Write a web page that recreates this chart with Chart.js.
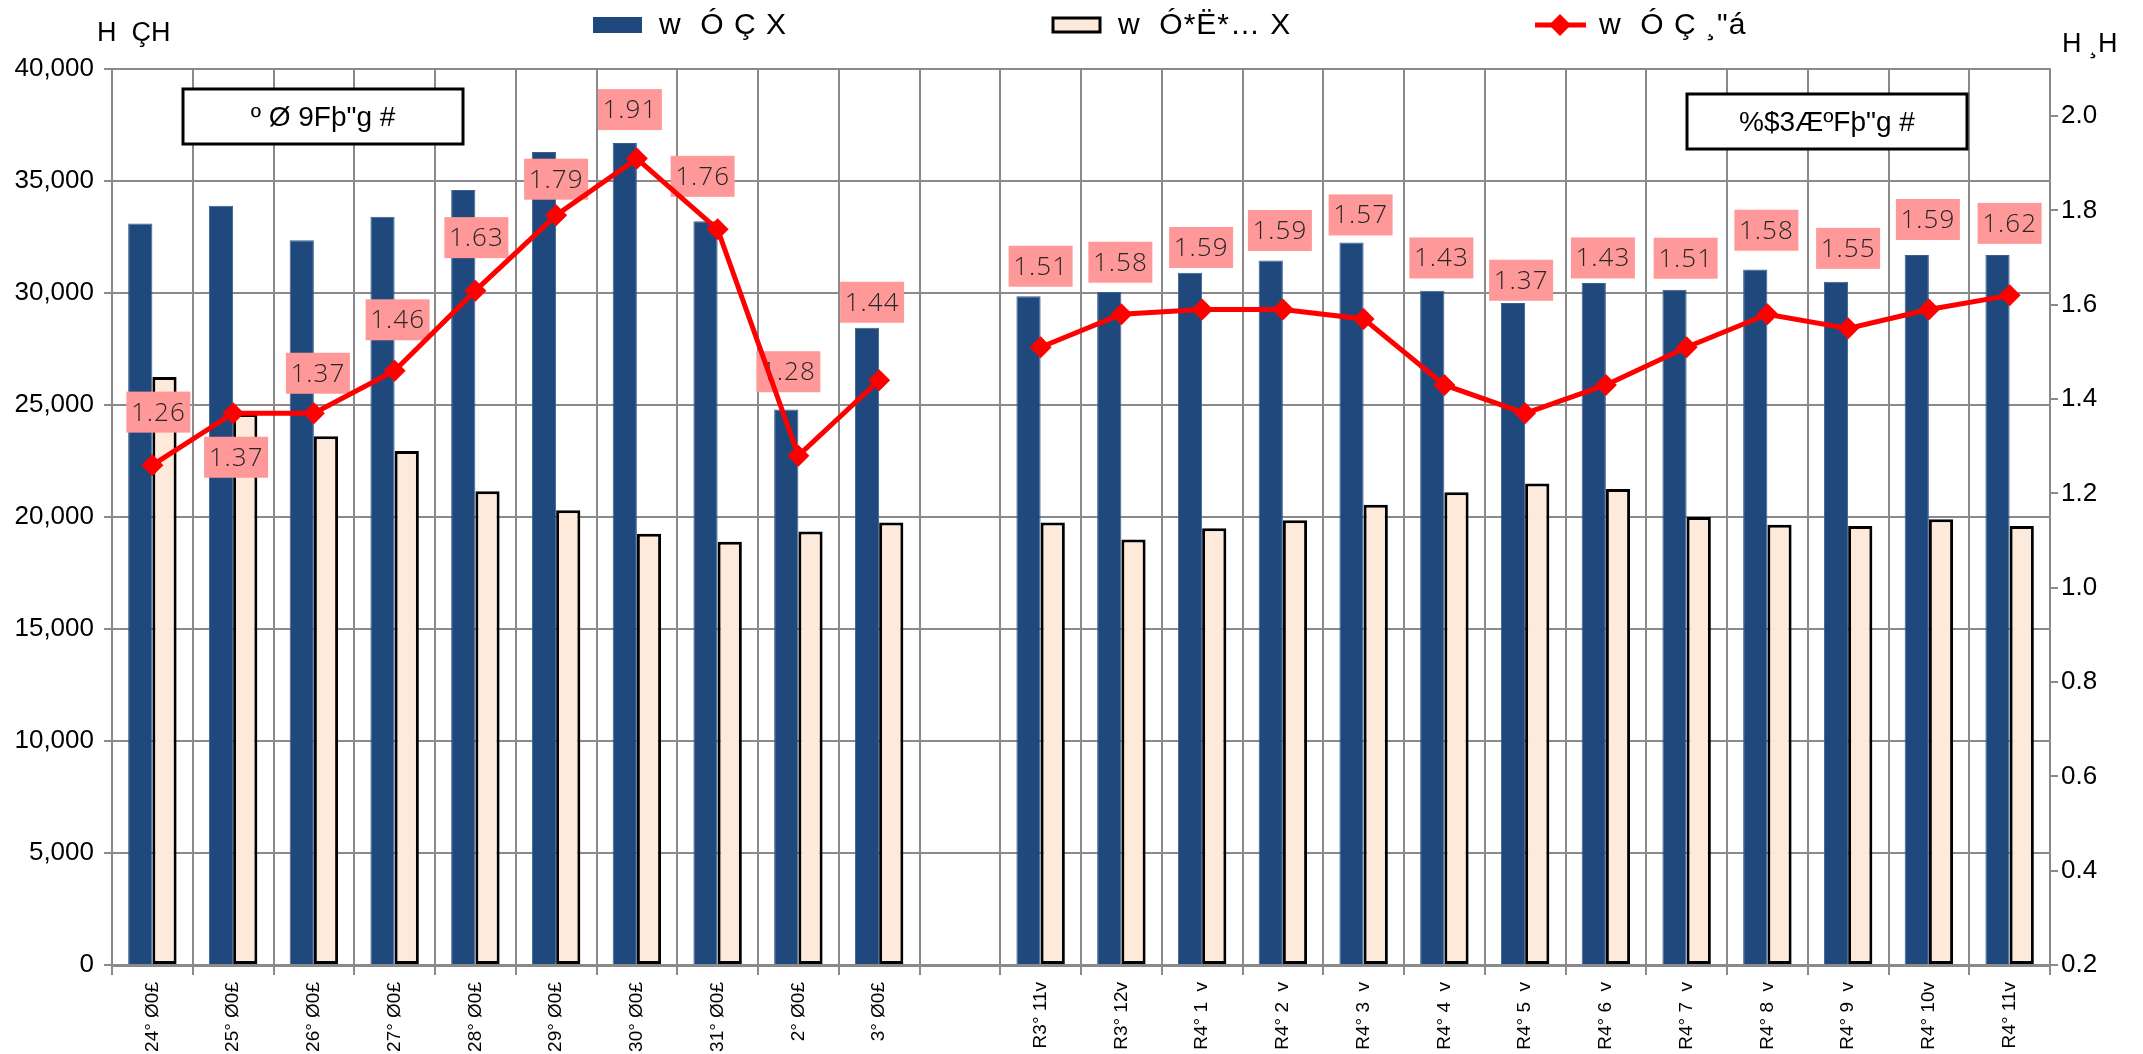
<!DOCTYPE html>
<html><head><meta charset="utf-8">
<script src="https://cdn.jsdelivr.net/npm/chart.js@4/dist/chart.umd.min.js"></script>
<style>html,body{margin:0;padding:0;background:#fff}#wrap{width:2143px;height:1054px;position:relative;background:#fff}</style>
</head><body><div id="wrap"><canvas id="c" width="2143" height="1054"></canvas></div>
<script>
// ---- data ----
const categories = ["24° Ø0£","25° Ø0£","26° Ø0£","27° Ø0£","28° Ø0£","29° Ø0£","30° Ø0£","31° Ø0£","2° Ø0£","3° Ø0£","",
  "R3° 11v","R3° 12v","R4° 1  v","R4° 2  v","R4° 3  v","R4° 4  v","R4° 5  v","R4° 6  v","R4° 7  v","R4° 8  v","R4° 9  v","R4° 10v","R4° 11v"];
const seriesBlue  = [33100,33900,32350,33400,34600,36300,36700,33200,24800,28450,null,29850,30050,30900,31450,32250,30100,29550,30450,30150,31050,30500,31700,31700];
const seriesBeige = [26250,24600,23600,22950,21150,20300,19250,18900,19350,19750,null,19750,19000,19500,19850,20550,21100,21500,21250,20000,19650,19600,19900,19600];
const seriesRatio = [1.26,1.37,1.37,1.46,1.63,1.79,1.91,1.76,1.28,1.44,null,1.51,1.58,1.59,1.59,1.57,1.43,1.37,1.43,1.51,1.58,1.55,1.59,1.62];
const seriesNames = ["w  Ó Ç X", "w  Ó*Ë*… X", "w  Ó Ç ¸\"á"];
const leftTickValues = [0,5000,10000,15000,20000,25000,30000,35000,40000];
const rightTickValues = [0.2,0.4,0.6,0.8,1.0,1.2,1.4,1.6,1.8,2.0];
const leftAxisTitle = "H  ÇH";
const rightAxisTitle = "H ¸H";
const boxTexts = ["º Ø 9Fþ\"g #", "%$3ÆºFþ\"g #"];

// ---- label placement (style, px offsets from each point) ----
const labelDx = [6,3,4,3,1,0,-7,-15,-10,-7,0,0,-1,-1,-3,-3,-3,-4,-3,-1,-1,0,-1,0];
const labelDy = [-53,44,-40,-51,-53,-36,-49,-53,-84,-78,0,-81,-52,-62,-79,-104,-127,-133,-127,-89,-84,-80,-90,-72];

const GRID = '#8a8a8a';
const FONT = "'Liberation Sans', Arial, sans-serif";
const NARROW = "'Liberation Sans Narrow', 'Arial Narrow', 'Liberation Sans', sans-serif";

const decor = {
  id: 'decor',
  beforeDatasetDraw(chart, args) {
    if (args.meta.type !== 'line') return;
    const ctx = chart.ctx;
    ctx.save();
    ctx.font = "300 26px 'Open Sans', 'Noto Sans', sans-serif";
    if ('letterSpacing' in ctx) ctx.letterSpacing = '1px';
    ctx.textAlign = 'center';
    ctx.textBaseline = 'middle';
    args.meta.data.forEach((pt, i) => {
      const v = seriesRatio[i];
      if (v === null) return;
      const cx = pt.x + labelDx[i], cy = pt.y + labelDy[i];
      ctx.fillStyle = '#FF9999';
      ctx.fillRect(cx - 32, cy - 20.5, 64, 41);
      ctx.fillStyle = '#262626';
      ctx.fillText(v.toFixed(2), cx, cy + 1);
    });
    ctx.restore();
  },
  afterDraw(chart) {
    const ctx = chart.ctx;
    ctx.save();
    // legend
    ctx.textBaseline = 'middle';
    ctx.textAlign = 'left';
    ctx.font = "30px " + NARROW;
    if ('letterSpacing' in ctx) ctx.letterSpacing = '1px';
    ctx.fillStyle = '#1F497D';
    ctx.fillRect(593, 17, 49, 16);
    ctx.fillStyle = '#000';
    ctx.fillText(seriesNames[0], 659, 26);
    ctx.fillStyle = '#FDEADA';
    ctx.fillRect(1053, 18, 47, 14);
    ctx.strokeStyle = '#000'; ctx.lineWidth = 3;
    ctx.strokeRect(1053, 18, 47, 14);
    ctx.fillStyle = '#000';
    ctx.fillText(seriesNames[1], 1118, 26);
    ctx.strokeStyle = '#FF0000'; ctx.lineWidth = 5;
    ctx.beginPath(); ctx.moveTo(1535, 25); ctx.lineTo(1586, 25); ctx.stroke();
    ctx.fillStyle = '#FF0000';
    ctx.beginPath(); ctx.moveTo(1560, 14); ctx.lineTo(1571, 25); ctx.lineTo(1560, 36); ctx.lineTo(1549, 25); ctx.closePath(); ctx.fill();
    ctx.fillStyle = '#000';
    ctx.fillText(seriesNames[2], 1599, 26);
    if ('letterSpacing' in ctx) ctx.letterSpacing = '0px';
    // axis titles
    ctx.font = "27px " + FONT;
    ctx.fillText(leftAxisTitle, 97, 34);
    ctx.fillText(rightAxisTitle, 2062, 45);
    // text boxes
    ctx.font = "28px " + FONT;
    ctx.textAlign = 'center';
    const boxes = [[183, 89], [1687, 94]];
    boxes.forEach((b, i) => {
      ctx.fillStyle = '#fff';
      ctx.fillRect(b[0], b[1], 280, 55);
      ctx.strokeStyle = '#000'; ctx.lineWidth = 3;
      ctx.strokeRect(b[0], b[1], 280, 55);
      ctx.fillStyle = '#000';
      ctx.fillText(boxTexts[i], b[0] + 140, b[1] + 29);
    });
    ctx.restore();
  }
};

new Chart(document.getElementById('c'), {
  type: 'bar',
  data: {
    labels: categories,
    datasets: [
      { type: 'bar', label: seriesNames[0], data: seriesBlue, yAxisID: 'y', order: 1,
        backgroundColor: '#1F497D', borderColor: '#3d5f8f', borderWidth: 1,
        barPercentage: 1.0, categoryPercentage: 0.6 },
      { type: 'bar', label: seriesNames[1], data: seriesBeige, yAxisID: 'y', order: 1,
        backgroundColor: '#FDEADA', borderColor: '#000', borderWidth: 3, borderSkipped: false,
        barPercentage: 1.0, categoryPercentage: 0.6 },
      { type: 'line', label: seriesNames[2], data: seriesRatio, yAxisID: 'y1', order: 0,
        borderColor: '#FF0000', borderWidth: 5, tension: 0, spanGaps: false,
        pointStyle: 'rectRot', pointRadius: 11, pointBackgroundColor: '#FF0000', pointBorderWidth: 0 }
    ]
  },
  options: {
    responsive: false,
    devicePixelRatio: 1,
    animation: false,
    layout: { padding: { top: 69, left: 0, right: 0, bottom: 0 } },
    plugins: { legend: { display: false }, title: { display: false }, tooltip: { enabled: false } },
    scales: {
      x: {
        offset: true,
        grid: { offset: true, color: GRID, lineWidth: 2, drawTicks: true, tickLength: 10, tickColor: GRID },
        border: { color: GRID, width: 3 },
        ticks: { autoSkip: false, minRotation: 90, maxRotation: 90, padding: 7, color: '#000', font: { family: FONT, size: 19 } },
        afterFit: s => { s.height = 89; }
      },
      y: {
        position: 'left', min: 0, max: 40000,
        afterBuildTicks: s => { s.ticks = leftTickValues.map(v => ({ value: v })); },
        grid: { color: GRID, lineWidth: 2, drawTicks: true, tickLength: 8, tickColor: GRID },
        border: { color: GRID, width: 2 },
        ticks: { padding: 10, color: '#000', font: { family: FONT, size: 26 },
          callback: v => Number(v).toLocaleString('en-US') },
        afterFit: s => { s.width = 112; }
      },
      y1: {
        position: 'right', min: 0.2, max: 2.1,
        afterBuildTicks: s => { s.ticks = rightTickValues.map(v => ({ value: v })); },
        grid: { drawOnChartArea: false, drawTicks: true, tickLength: 8, color: GRID, lineWidth: 2 },
        border: { color: GRID, width: 2 },
        ticks: { padding: 3, color: '#000', font: { family: FONT, size: 26 },
          callback: v => Number(v).toFixed(1) },
        afterFit: s => { s.width = 93; }
      }
    }
  },
  plugins: [decor]
});
</script>
</body></html>
